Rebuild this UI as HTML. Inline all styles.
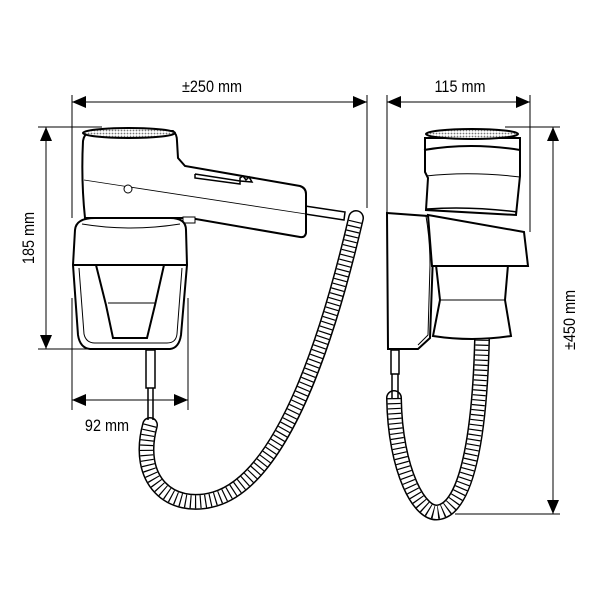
<!DOCTYPE html>
<html><head><meta charset="utf-8"><style>
html,body{margin:0;padding:0;background:#fff;}
svg{display:block;}
text{font-family:"Liberation Sans",sans-serif;font-size:17px;fill:#000;}
</style></head><body>
<svg width="600" height="600" viewBox="0 0 600 600" xmlns="http://www.w3.org/2000/svg">
<defs>
<pattern id="mesh" width="3" height="3" patternUnits="userSpaceOnUse">
<rect width="3" height="3" fill="#fff"/><circle cx="1.5" cy="1.5" r="0.9" fill="#777"/>
</pattern>
</defs>
<g stroke="#000" stroke-width="1" fill="none">
<line x1="72" y1="95" x2="72" y2="218"/>
<line x1="367" y1="95" x2="367" y2="208"/>
<line x1="72" y1="102" x2="367" y2="102"/>
<line x1="387" y1="95" x2="387" y2="212"/>
<line x1="530" y1="95" x2="530" y2="232"/>
<line x1="387" y1="102" x2="530" y2="102"/>
<line x1="38" y1="127" x2="102" y2="127"/>
<line x1="38" y1="349" x2="88" y2="349"/>
<line x1="46" y1="127" x2="46" y2="349"/>
<line x1="505" y1="127" x2="560" y2="127"/>
<line x1="455" y1="514" x2="560" y2="514"/>
<line x1="553" y1="127" x2="553" y2="514"/>
<line x1="72" y1="298" x2="72" y2="410"/>
<line x1="188" y1="298" x2="188" y2="410"/>
<line x1="72" y1="400" x2="188" y2="400"/>
</g>
<g fill="#000">
<polygon points="72,102 86,96 86,108"/><polygon points="367,102 353,96 353,108"/>
<polygon points="387,102 401,96 401,108"/><polygon points="530,102 516,96 516,108"/>
<polygon points="46,127 40,141 52,141"/><polygon points="46,349 40,335 52,335"/>
<polygon points="553,127 547,141 559,141"/><polygon points="553,514 547,500 559,500"/>
<polygon points="72,400 86,394 86,406"/><polygon points="188,400 174,394 174,406"/>
</g>
<text transform="translate(212,92) scale(0.85,1)" text-anchor="middle">±250 mm</text>
<text transform="translate(460,92) scale(0.85,1)" text-anchor="middle">115 mm</text>
<text transform="translate(107,431) scale(0.85,1)" text-anchor="middle">92 mm</text>
<text transform="translate(34,238) rotate(-90) scale(0.85,1)" text-anchor="middle">185 mm</text>
<text transform="translate(575,320) rotate(-90) scale(0.85,1)" text-anchor="middle">±450 mm</text>

<g fill="none" stroke-linecap="round">
<path d="M150,425 C135,480 170,512 215,499 C285,478 330,330 356,218" stroke="#000" stroke-width="16"/>
<path d="M150,425 C135,480 170,512 215,499 C285,478 330,330 356,218" stroke="#fff" stroke-width="13"/>
<path d="M150,425 C135,480 170,512 215,499 C285,478 330,330 356,218" stroke="#000" stroke-width="13" stroke-dasharray="1.2 3.8" stroke-linecap="butt"/>
<path d="M394,398 C395,470 420,518 440,512 C470,505 480,420 482,340" stroke="#000" stroke-width="16"/>
<path d="M394,398 C395,470 420,518 440,512 C470,505 480,420 482,340" stroke="#fff" stroke-width="13"/>
<path d="M394,398 C395,470 420,518 440,512 C470,505 480,420 482,340" stroke="#000" stroke-width="13" stroke-dasharray="1.2 3.8" stroke-linecap="butt"/>
</g>
<g stroke="#000" fill="#fff" stroke-width="1.5">
<rect x="146" y="350" width="9" height="38"/>
<line x1="148" y1="388" x2="148" y2="420"/><line x1="153" y1="388" x2="153" y2="420"/>
<polygon points="305,206 345,212 344,220 305,214" stroke-width="1.5"/>
<path d="M83,141 Q84,134 90,131 L173,131 Q177,134 177,141 L178,158 L185,166 L300,186 Q306,188 306,194 L306,233 Q305,238 300,237 L190,218 L180,218 L85,218 Q81,180 83,141 Z" stroke-width="2"/>
<ellipse cx="129" cy="133" rx="46" ry="5" fill="url(#mesh)" stroke-width="2"/>
<path d="M84,180 L306,214" fill="none" stroke-width="0.8"/>
<circle cx="128" cy="189" r="4" stroke-width="1"/>
<path d="M195,174 L240,181 L240,178 L243,176 L246,180 L249,177 L252,182 L240,181 M195,174 L195,178 L240,184 L240,181" fill="none" stroke-width="1.5"/>
<rect x="183" y="217" width="12" height="6" stroke-width="1"/>
<path d="M75,230 Q76,218 95,218 L170,218 Q186,218 186,230 L187,265 L181,335 Q179,348 170,349 L90,349 Q80,348 78,335 L73,265 Z" stroke-width="2"/>
<path d="M82,224 Q130,232 180,224" fill="none" stroke-width="1"/>
<line x1="73" y1="265" x2="187" y2="265" stroke-width="2"/>
<path d="M96,265 L106,305 L113,338 L147,338 L155,305 L164,265" fill="none" stroke-width="2"/>
<line x1="108" y1="303" x2="155" y2="303" stroke-width="1"/>
<path d="M79,268 L84,334 Q86,343 95,343 L167,343 Q176,343 177,334 L182,268" fill="none" stroke-width="1"/>

<rect x="391" y="350" width="8" height="24"/>
<line x1="392" y1="374" x2="392" y2="398"/><line x1="398" y1="374" x2="398" y2="398"/>
<path d="M425,138 L425,172 L428,178 L426,210 L516,215 L520,176 L520,138 Z" stroke-width="2"/>
<path d="M424,150 Q470,142 520,150" fill="none" stroke-width="2"/>
<path d="M426,176 Q470,171 520,177" fill="none" stroke-width="1"/>
<path d="M427,209 Q470,206 517,212" fill="none" stroke-width="1.5"/>
<ellipse cx="472" cy="134" rx="46" ry="5" fill="url(#mesh)" stroke-width="2"/>
<path d="M436,265 L508,265 L505,300 L511,336 Q472,342 433,336 L440,300 Z" stroke-width="2"/>
<line x1="440" y1="300" x2="505" y2="300" stroke-width="1"/>
<path d="M387,213 L428,216 Q433,225 433,255 L430,338 L418,349 L388,349 Z" stroke-width="2"/>
<path d="M426,216 Q430,240 430,265 L428,335 L418,345" fill="none" stroke-width="1"/>
<path d="M428,215 L524,232 L528,266 L432,266 Z" stroke-width="2"/>
</g>
</svg>
</body></html>
